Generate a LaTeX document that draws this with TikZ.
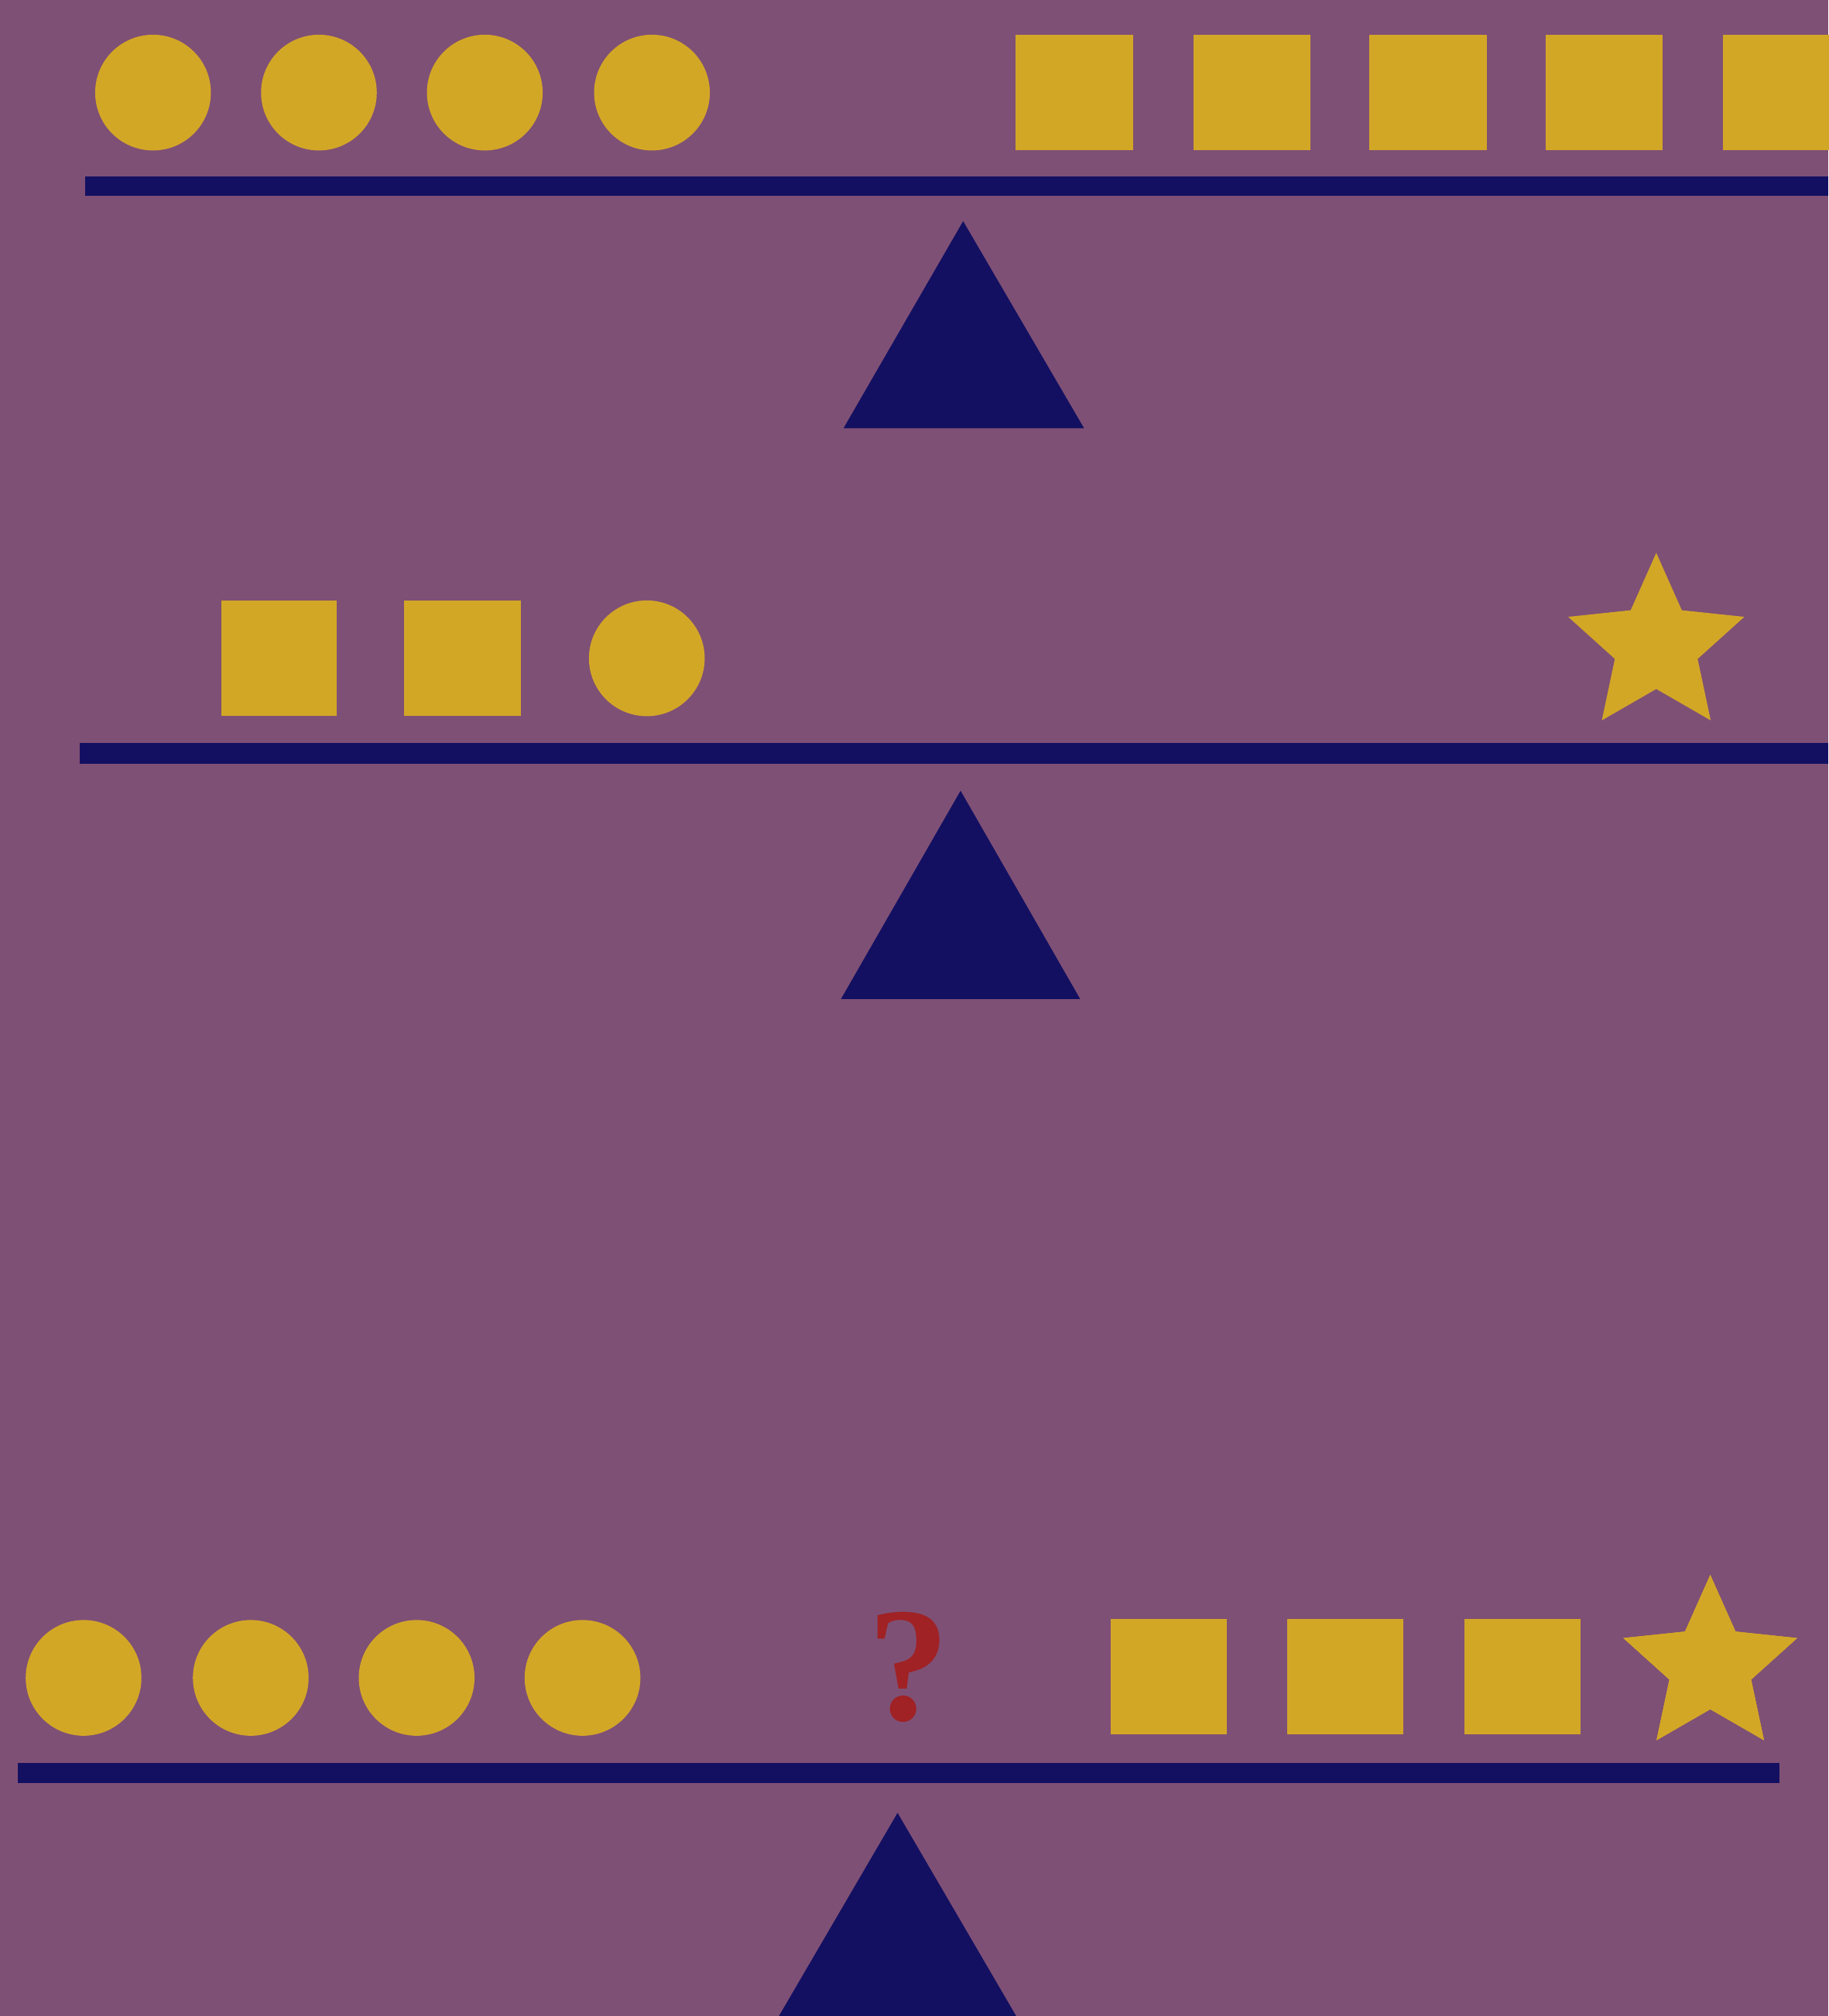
\documentclass[tikz,border=0pt]{standalone}
\usepackage{fontspec}
\newfontfamily\qfont{Liberation Serif}
\usetikzlibrary{calc}
\definecolor{bgc}{RGB}{127,80,117}
\definecolor{gold}{RGB}{211,167,38}
\definecolor{navy}{RGB}{19,16,98}
\definecolor{qred}{RGB}{160,34,36}
\tikzset{
  weight/.style={fill=gold},
  beam/.style={fill=navy},
  fulcrum/.style={fill=navy},
}
\newcommand{\mystar}[3]{% x, y, R
  \fill[weight,shift={(#1,#2)}] (90:#3) -- (126:0.47*#3) -- (162:#3) -- (198:0.47*#3) -- (234:#3) -- (270:0.47*#3) -- (306:#3) -- (342:0.47*#3) -- (18:#3) -- (54:0.47*#3) -- cycle;}
\newcommand{\mysq}[3]{% left x, top y, right x
  \fill[weight] (#1,-#2) rectangle (#3,{-#2-90});}
\begin{document}
\begin{tikzpicture}[x=0.01cm,y=0.01cm]
\useasboundingbox (0,0) rectangle (1422,-1568);
\fill[bgc] (0,0) rectangle (1422,-1568);
% ---------- panel 1 ----------
\foreach \cx in {119,248,377,507} \fill[weight] (\cx,-72) circle (45);
\foreach \lx in {790,928,1065,1202,1340} \mysq{\lx}{27}{\lx+91}
\fill[beam] (66,-137) rectangle (1422,-152);
\fill[fulcrum] (749,-172) -- (843,-333) -- (656,-333) -- cycle;
% ---------- panel 2 ----------
\mysq{172}{467}{262}
\mysq{314}{467}{405}
\fill[weight] (503,-512) circle (45);
\mystar{1288}{-502}{72}
\fill[beam] (62,-578) rectangle (1422,-594);
\fill[fulcrum] (747,-615) -- (840,-777) -- (654,-777) -- cycle;
% ---------- panel 3 ----------
\foreach \cx in {65,195,324,453} \fill[weight] (\cx,-1305) circle (45);
\node[text=qred,font=\qfont\fontsize{36}{36}\selectfont\bfseries,inner sep=0pt] (q) at (707,-1297) {?};
\foreach \lx in {864,1001,1139} \mysq{\lx}{1259}{\lx+90}
\mystar{1330}{-1296}{71}
\fill[beam] (14,-1371) rectangle (1384,-1387);
\fill[fulcrum] (698,-1410) -- (792,-1571) -- (604,-1571) -- cycle;
\end{tikzpicture}
\end{document}
